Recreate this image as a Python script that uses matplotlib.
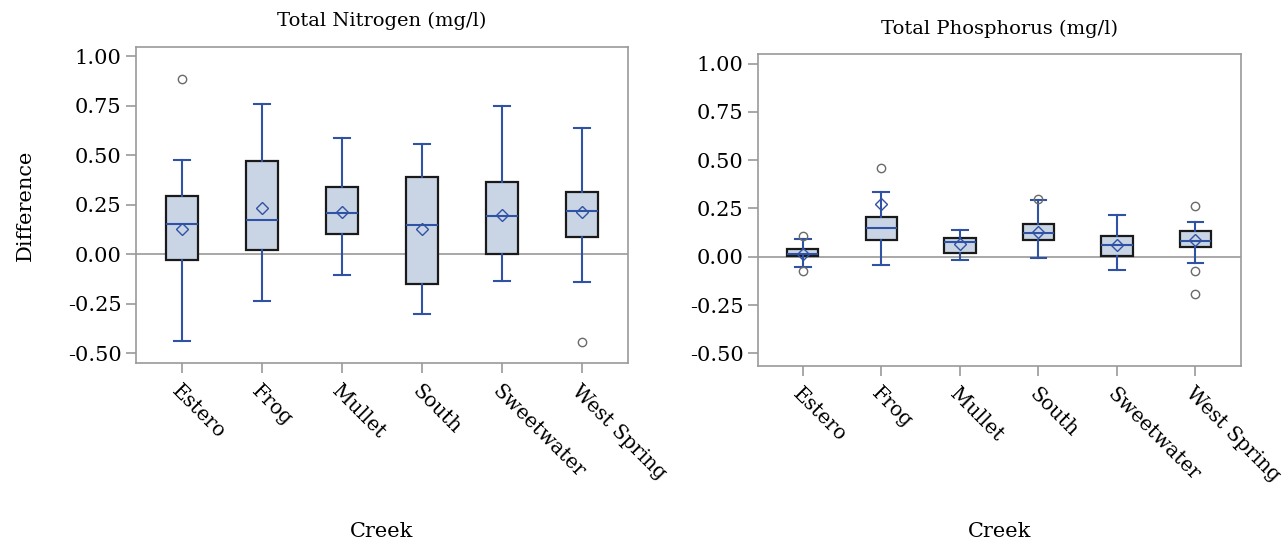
import matplotlib.pyplot as plt

plt.rcParams['font.family'] = ['DejaVu Serif']

creeks = ["Estero", "Frog", "Mullet", "South", "Sweetwater", "West Spring"]

# Total Nitrogen: whisker low, q1, median, q3, whisker high, mean, outliers
tn_whislo = [-0.436, -0.236, -0.103, -0.300, -0.133, -0.141]
tn_q1 = [-0.029, 0.019, 0.101, -0.150, 0.000, 0.086]
tn_med = [0.150, 0.172, 0.207, 0.148, 0.192, 0.219]
tn_q3 = [0.295, 0.470, 0.338, 0.390, 0.362, 0.313]
tn_whishi = [0.475, 0.759, 0.587, 0.554, 0.749, 0.638]
tn_mean = [0.128, 0.231, 0.215, 0.126, 0.197, 0.214]
tn_fliers = [[0.885], [], [], [], [], [-0.441]]

# Total Phosphorus
tp_whislo = [-0.055, -0.045, -0.016, -0.007, -0.071, -0.031]
tp_q1 = [0.004, 0.085, 0.021, 0.085, 0.005, 0.053]
tp_med = [0.014, 0.149, 0.078, 0.124, 0.062, 0.083]
tp_q3 = [0.038, 0.207, 0.098, 0.171, 0.110, 0.135]
tp_whishi = [0.092, 0.338, 0.138, 0.295, 0.216, 0.180]
tp_mean = [0.016, 0.271, 0.066, 0.128, 0.062, 0.085]
tp_fliers = [[0.109, -0.074], [0.459], [], [0.299], [], [0.263, -0.074, -0.192]]

yticks = [-0.50, -0.25, 0.00, 0.25, 0.50, 0.75, 1.00]

BLUE = '#2f52a4'
FILL = '#c9d5e5'
GRAY = '#9a9a9a'


def make_stats(lo, q1, med, q3, hi, mean, fliers):
    stats = []
    for i in range(len(creeks)):
        stats.append({'whislo': lo[i], 'q1': q1[i], 'med': med[i], 'q3': q3[i],
                      'whishi': hi[i], 'mean': mean[i], 'fliers': fliers[i],
                      'label': creeks[i]})
    return stats


def draw_panel(ax, stats, title, ylim, title_pad, xlab_pad):
    ax.axhline(0, color=GRAY, lw=1.2, zorder=0)
    ax.bxp(stats, positions=range(len(stats)), widths=0.4, showmeans=True,
           patch_artist=True,
           boxprops=dict(facecolor=FILL, edgecolor='#1a1a1a', linewidth=1.6),
           whiskerprops=dict(color=BLUE, linewidth=1.5),
           capprops=dict(color=BLUE, linewidth=1.5),
           medianprops=dict(color=BLUE, linewidth=1.5),
           meanprops=dict(marker='D', markerfacecolor='none', markeredgecolor=BLUE,
                          markersize=6, markeredgewidth=1.0),
           flierprops=dict(marker='o', markerfacecolor='none', markeredgecolor='#6a6a6a',
                           markersize=6, markeredgewidth=1.0))
    ax.set_xlim(-0.57, 5.58)
    ax.set_ylim(*ylim)
    ax.set_yticks(yticks)
    ax.set_yticklabels(['%.2f' % v for v in yticks])
    ax.set_xticks(range(len(creeks)))
    ax.set_xticklabels(creeks, rotation=-45, ha='left', rotation_mode='anchor', fontsize=14.5)
    for sp in ax.spines.values():
        sp.set_color(GRAY)
        sp.set_linewidth(1.2)
    ax.tick_params(axis='both', colors=GRAY, labelcolor='black', length=7, width=1.2)
    ax.tick_params(axis='y', labelsize=15)
    ax.tick_params(axis='x', pad=6)
    ax.set_title(title, fontsize=14, pad=title_pad)
    ax.set_xlabel('Creek', fontsize=15, labelpad=xlab_pad)


fig = plt.figure(figsize=(12.83, 5.42), dpi=100)
ax1 = fig.add_axes([0.106, 0.330, 0.3835, 0.583])
ax2 = fig.add_axes([0.5908, 0.325, 0.3765, 0.576])

draw_panel(ax1, make_stats(tn_whislo, tn_q1, tn_med, tn_q3, tn_whishi, tn_mean, tn_fliers),
           'Total Nitrogen (mg/l)', (-0.55, 1.045), 15, 28)
draw_panel(ax2, make_stats(tp_whislo, tp_q1, tp_med, tp_q3, tp_whishi, tp_mean, tp_fliers),
           'Total Phosphorus (mg/l)', (-0.565, 1.052), 14, 26)
ax1.set_ylabel('Difference', fontsize=15, labelpad=24)

fig.savefig('out.png', dpi=100)
